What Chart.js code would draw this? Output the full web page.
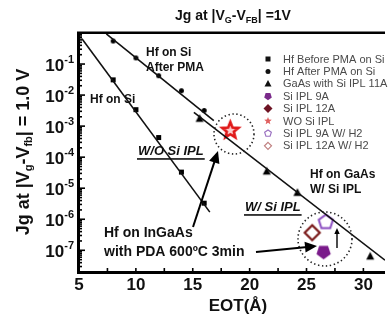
<!DOCTYPE html>
<html>
<head>
<meta charset="utf-8">
<script src="https://cdn.jsdelivr.net/npm/chart.js@4/dist/chart.umd.min.js"></script>
<style>
  body { margin: 0; background: #fff; }
  #wrap { width: 392px; height: 320px; position: relative; }
</style>
</head>
<body>
<div id="wrap"><canvas id="jgChart"></canvas></div>
<script>
// EOT (Angstrom) and Jg (A/cm2)
const eotSi = [8, 10, 12, 14, 16]
const jgBeforePMA = [0.031, 0.0034, 4.3e-4, 3.3e-5, 3.3e-6]
const jgAfterPMA = [0.55, 0.158, 0.042, 0.0138, 0.0032]
const eotGaAs = [15.6, 21.5, 24.2, 30.6]
const jgGaAs = [1.75e-3, 3.5e-5, 7.2e-6, 6.4e-8]
const eotWOSi = [18.3]
const jgWOSi = [7.2e-4]
const eotSi9A = [26.5]
const jgSi9A = [8.9e-8]
const eotSi12A = []
const jgSi12A = []
const eotSi9AH2 = [26.7]
const jgSi9AH2 = [8.1e-7]
const eotSi12AH2 = [25.5]
const jgSi12AH2 = [3.7e-7]

// fitted trend lines (end points)
const fitBeforeX = [5.26, 16.5]
const fitBeforeY = [0.65, 1.7e-6]
const fitAfterX = [7.4, 16.85]
const fitAfterY = [0.93, 1.5e-3]
const fitGaAsX = [15.1, 31.9]
const fitGaAsY = [2.75e-3, 4.8e-8]

const xTicks = [5, 10, 15, 20, 25, 30]
const xMinorTicks = [7.5, 12.5, 17.5, 22.5, 27.5]
const yTickExp = [-1, -2, -3, -4, -5, -6, -7]

const pts = (xs, ys) => xs.map((x, i) => ({ x: x, y: ys[i] }))

// marker shapes
function drawShape(ctx, kind, cx, cy, s, fill, stroke, lw) {
  ctx.save()
  ctx.beginPath()
  if (kind === 'square') {
    ctx.rect(cx - s / 2, cy - s / 2, s, s)
  } else if (kind === 'circle') {
    ctx.arc(cx, cy, s / 2, 0, Math.PI * 2)
  } else if (kind === 'triangle') {
    ctx.moveTo(cx, cy - s * 0.55)
    ctx.lineTo(cx + s / 2, cy + s * 0.4)
    ctx.lineTo(cx - s / 2, cy + s * 0.4)
    ctx.closePath()
  } else if (kind === 'diamond') {
    ctx.moveTo(cx, cy - s / 2)
    ctx.lineTo(cx + s / 2, cy)
    ctx.lineTo(cx, cy + s / 2)
    ctx.lineTo(cx - s / 2, cy)
    ctx.closePath()
  } else if (kind === 'pentUp' || kind === 'pentDown') {
    const dir = kind === 'pentUp' ? -1 : 1
    for (let i = 0; i < 5; i++) {
      const a = Math.PI / 2 * dir + i * 2 * Math.PI / 5
      const px = cx + Math.cos(a) * s / 2
      const py = cy + Math.sin(a) * s / 2
      if (i === 0) ctx.moveTo(px, py)
      else ctx.lineTo(px, py)
    }
    ctx.closePath()
  } else if (kind === 'star') {
    for (let i = 0; i < 10; i++) {
      const r = i % 2 === 0 ? s / 2 : s / 4.6
      const a = -Math.PI / 2 + i * Math.PI / 5
      const px = cx + Math.cos(a) * r
      const py = cy + Math.sin(a) * r
      if (i === 0) ctx.moveTo(px, py)
      else ctx.lineTo(px, py)
    }
    ctx.closePath()
  }
  if (fill) { ctx.fillStyle = fill; ctx.fill() }
  if (stroke) { ctx.strokeStyle = stroke; ctx.lineWidth = lw; ctx.lineJoin = 'miter'; ctx.stroke() }
  ctx.restore()
}

function makeMarker(kind, s, fill, stroke, lw) {
  const c = document.createElement('canvas')
  const n = Math.ceil(s + (lw || 0) * 2 + 2)
  c.width = n
  c.height = n
  drawShape(c.getContext('2d'), kind, n / 2, n / 2, s, fill, stroke, lw || 0)
  return c
}

const series = [
  { label: 'Hf Before PMA on Si', data: pts(eotSi, jgBeforePMA), shape: ['square', 5, '#000', null, 0], leg: ['square', 5, '#111', null, 0] },
  { label: 'Hf After PMA on Si', data: pts(eotSi, jgAfterPMA), shape: ['circle', 5, '#000', null, 0], leg: ['circle', 5, '#111', null, 0] },
  { label: 'GaAs with Si IPL 11A', data: pts(eotGaAs, jgGaAs), shape: ['triangle', 8, '#000', null, 0], leg: ['triangle', 7, '#111', null, 0] },
  { label: 'Si IPL 9A', data: pts(eotSi9A, jgSi9A), shape: ['pentDown', 15, '#7a1a8a', null, 0], leg: ['pentDown', 8, '#7a2a8a', null, 0] },
  { label: 'Si IPL 12A', data: pts(eotSi12A, jgSi12A), shape: ['diamond', 14, '#6e1424', null, 0], leg: ['diamond', 9, '#6e1424', null, 0] },
  { label: 'WO Si IPL', data: pts(eotWOSi, jgWOSi), shape: ['star', 17, '#ffd0d0', '#e01818', 2.6], leg: ['star', 8, '#e06060', null, 0] },
  { label: 'Si IPL 9A W/ H2', data: pts(eotSi9AH2, jgSi9AH2), shape: ['pentUp', 15, '#fff', '#8a4cc0', 2], leg: ['pentUp', 7, '#fff', '#9a70c0', 1.2] },
  { label: 'Si IPL 12A W/ H2', data: pts(eotSi12AH2, jgSi12AH2), shape: ['diamond', 15, '#fff', '#7a1a1a', 2.2], leg: ['diamond', 7, '#fff', '#c08080', 1.2] }
]

const datasets = series.map(s => ({
  label: s.label,
  data: s.data,
  showLine: false,
  pointStyle: makeMarker(...s.shape),
  pointRadius: 6,
  legendShape: s.leg
}))

const fitLine = (xs, ys) => ({
  data: pts(xs, ys),
  showLine: true,
  borderColor: '#111',
  borderWidth: 1.6,
  pointRadius: 0,
  fill: false
})
datasets.unshift(fitLine(fitBeforeX, fitBeforeY), fitLine(fitAfterX, fitAfterY), fitLine(fitGaAsX, fitGaAsY))

// text with sub/superscripts: parts = [[text, 'sub'|'sup'|null], ...]
function richText(ctx, parts, x, y, size, align) {
  const small = Math.round(size * 0.62)
  const w = parts.reduce((acc, p) => {
    ctx.font = 'bold ' + (p[1] ? small : size) + 'px Arial'
    return acc + ctx.measureText(p[0]).width
  }, 0)
  let cx = align === 'center' ? x - w / 2 : align === 'right' ? x - w : x
  ctx.textAlign = 'left'
  ctx.textBaseline = 'middle'
  parts.forEach(p => {
    ctx.font = 'bold ' + (p[1] ? small : size) + 'px Arial'
    const dy = p[1] === 'sub' ? size * 0.3 : p[1] === 'sup' ? -size * 0.38 : 0
    ctx.fillText(p[0], cx, y + dy)
    cx += ctx.measureText(p[0]).width
  })
}

function arrow(ctx, x1, y1, x2, y2, head, lw) {
  const a = Math.atan2(y2 - y1, x2 - x1)
  ctx.save()
  ctx.strokeStyle = '#000'
  ctx.fillStyle = '#000'
  ctx.lineWidth = lw
  ctx.beginPath()
  ctx.moveTo(x1, y1)
  ctx.lineTo(x2 - Math.cos(a) * head * 0.8, y2 - Math.sin(a) * head * 0.8)
  ctx.stroke()
  ctx.beginPath()
  ctx.moveTo(x2, y2)
  ctx.lineTo(x2 - Math.cos(a) * head - Math.sin(a) * head * 0.45, y2 - Math.sin(a) * head + Math.cos(a) * head * 0.45)
  ctx.lineTo(x2 - Math.cos(a) * head + Math.sin(a) * head * 0.45, y2 - Math.sin(a) * head - Math.cos(a) * head * 0.45)
  ctx.closePath()
  ctx.fill()
  ctx.restore()
}

function dottedCircle(ctx, x, y, r) {
  ctx.save()
  ctx.strokeStyle = '#222'
  ctx.lineWidth = 1.6
  ctx.setLineDash([1.4, 2.6])
  ctx.beginPath()
  ctx.arc(x, y, r, 0, Math.PI * 2)
  ctx.stroke()
  ctx.restore()
}

function label(ctx, text, x, y, size, italicUnderline) {
  ctx.save()
  ctx.fillStyle = '#111'
  ctx.font = (italicUnderline ? 'italic ' : '') + 'bold ' + size + 'px Arial'
  ctx.textAlign = 'left'
  ctx.textBaseline = 'middle'
  ctx.fillText(text, x, y)
  if (italicUnderline) {
    const w = ctx.measureText(text).width
    ctx.fillRect(x - 1, y + size * 0.55, w + 2, 1.6)
  }
  ctx.restore()
}

const decorPlugin = {
  id: 'decor',
  afterDraw(chart) {
    const ctx = chart.ctx
    const a = chart.chartArea
    const xs = chart.scales.x
    const ys = chart.scales.y
    ctx.save()

    // axes frame
    ctx.fillStyle = '#000'
    ctx.fillRect(a.left - 2, a.top - 1, 3, a.bottom - a.top + 2)
    ctx.fillRect(a.left - 2, a.bottom - 1, a.right - a.left + 2, 3)
    ctx.fillRect(a.left - 2, a.top - 1.5, a.right - a.left + 2, 2.5)

    // x ticks, inward
    ctx.lineWidth = 1.6
    ctx.strokeStyle = '#000'
    xTicks.concat(xMinorTicks).forEach(v => {
      const px = xs.getPixelForValue(v)
      ctx.beginPath()
      ctx.moveTo(px, a.bottom)
      ctx.lineTo(px, a.bottom - 4)
      ctx.stroke()
    })
    // y ticks, inward, with log minors
    for (let e = -8; e <= 0; e++) {
      for (let m = 1; m < 10; m++) {
        const v = m * Math.pow(10, e)
        if (v < ys.min || v > ys.max) continue
        const py = ys.getPixelForValue(v)
        ctx.beginPath()
        ctx.moveTo(a.left, py)
        ctx.lineTo(a.left + (m === 1 ? 6 : 3), py)
        ctx.stroke()
      }
    }

    // tick labels
    ctx.fillStyle = '#111'
    ctx.font = 'bold 17px Arial'
    ctx.textAlign = 'center'
    ctx.textBaseline = 'middle'
    xTicks.forEach(v => ctx.fillText(String(v), xs.getPixelForValue(v), a.bottom + 13))
    yTickExp.forEach(e => {
      richText(ctx, [['10', null], [String(e), 'sup']], a.left - 5, ys.getPixelForValue(Math.pow(10, e)) + 2, 17, 'right')
    })

    // titles
    richText(ctx, [['Jg at |V', null], ['G', 'sub'], ['-V', null], ['FB', 'sub'], ['| =1V', null]], 233, 16, 14, 'center')
    ctx.font = 'bold 17px Arial'
    ctx.textAlign = 'center'
    ctx.fillText('EOT(Å)', 238, 306)
    ctx.save()
    ctx.translate(24, 152)
    ctx.rotate(-Math.PI / 2)
    richText(ctx, [['Jg at |V', null], ['g', 'sub'], ['-V', null], ['fb', 'sub'], ['| = 1.0 V', null]], 0, 0, 18, 'center')
    ctx.restore()

    // legend
    const legendItems = chart.data.datasets.filter(d => d.legendShape)
    legendItems.forEach((d, i) => {
      const y = 59 + i * 12.4
      const s = d.legendShape
      drawShape(ctx, s[0], 268, y, s[1], s[2], s[3], s[4])
      ctx.fillStyle = '#4a4a4a'
      ctx.font = '11px Arial'
      ctx.textAlign = 'left'
      ctx.textBaseline = 'middle'
      ctx.fillText(d.label, 283, y + 0.5)
    })

    // annotations
    dottedCircle(ctx, 234, 134, 20)
    dottedCircle(ctx, 325, 239, 27)
    arrow(ctx, 193, 227, 218, 151, 12, 2)
    arrow(ctx, 256, 252, 317, 246, 12, 2)
    arrow(ctx, 337, 248, 337, 228, 6, 1.4)

    label(ctx, 'Hf on Si', 146, 53, 12)
    label(ctx, 'After PMA', 146, 68, 12)
    label(ctx, 'Hf on Si', 90, 100, 12)
    label(ctx, 'W/O Si IPL', 138, 151, 13, true)
    label(ctx, 'Hf on GaAs', 310, 175, 12)
    label(ctx, 'W/ Si IPL', 310, 190, 12)
    label(ctx, 'W/ Si IPL', 245, 207, 13, true)
    label(ctx, 'Hf on InGaAs', 104, 233, 14)
    label(ctx, 'with PDA 600ºC 3min', 104, 252, 14)
    ctx.restore()
  }
}

new Chart(document.getElementById('jgChart'), {
  type: 'scatter',
  data: { datasets: datasets },
  options: {
    responsive: true,
    maintainAspectRatio: false,
    animation: false,
    layout: { padding: { top: 33, left: 0, right: 0, bottom: 0 } },
    plugins: {
      legend: { display: false },
      tooltip: { enabled: false }
    },
    scales: {
      x: {
        type: 'linear',
        min: 5,
        max: 31.9,
        grid: { display: false },
        border: { display: false },
        ticks: { display: false },
        afterFit: s => { s.height = 48 }
      },
      y: {
        type: 'logarithmic',
        min: 2e-8,
        max: 1,
        grid: { display: false },
        border: { display: false },
        ticks: { display: false },
        afterFit: s => { s.width = 79 }
      }
    }
  },
  plugins: [decorPlugin]
})
</script>
</body>
</html>
